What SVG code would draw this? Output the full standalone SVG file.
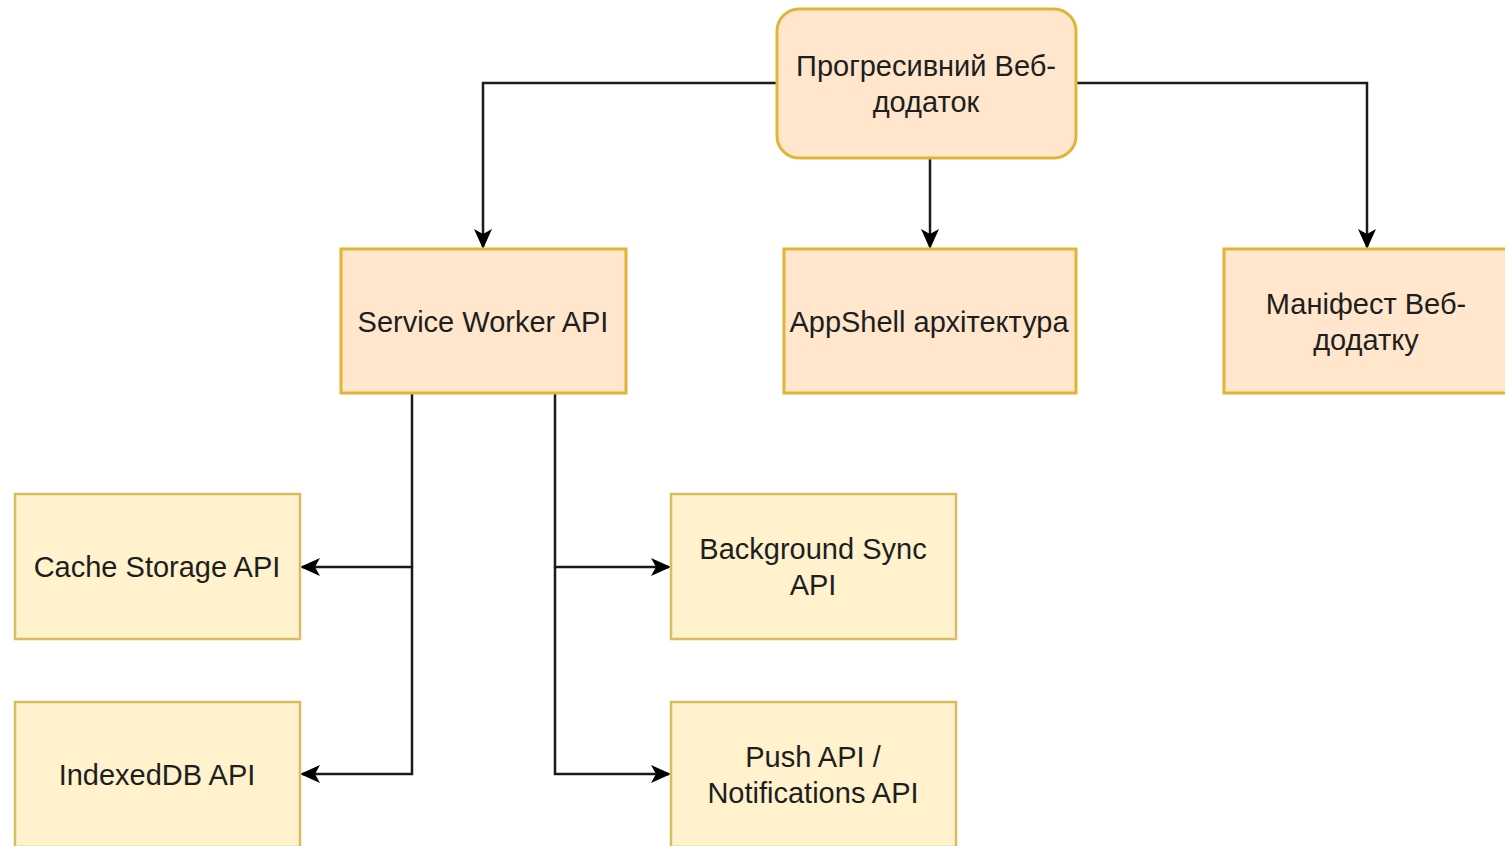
<svg xmlns="http://www.w3.org/2000/svg" width="1505" height="846" viewBox="0 0 1505 846">
<style>
.o{fill:#ffe6cc;stroke:#e2b434;stroke-width:3}
.y{fill:#fff2cc;stroke:#d9bc5e;stroke-width:2.5}
.t{font-family:"Liberation Sans",Arial,sans-serif;font-size:29px;fill:#1e1e1e;text-anchor:middle}
.c{fill:none;stroke:#1a1a1a;stroke-width:2.5}
</style>
<defs>
<marker id="a" viewBox="0 0 20 20" refX="18" refY="10" markerWidth="20" markerHeight="20" markerUnits="userSpaceOnUse" orient="auto">
<path d="M0,1 L20,10 L0,19 L5,10 Z" fill="#000"/>
</marker>
</defs>
<rect width="1505" height="846" fill="#fff"/>
<g id="connectors">
<path class="c" d="M777,83 H483 V247" marker-end="url(#a)"/>
<path class="c" d="M930,158 V247" marker-end="url(#a)"/>
<path class="c" d="M1076,83 H1367 V247" marker-end="url(#a)"/>
<path class="c" d="M412,393 V567 H302" marker-end="url(#a)"/>
<path class="c" d="M412,567 V774 H302" marker-end="url(#a)"/>
<path class="c" d="M555,393 V567 H669" marker-end="url(#a)"/>
<path class="c" d="M555,567 V774 H669" marker-end="url(#a)"/>
</g>
<g id="pwa">
<rect class="o" x="777" y="9" width="299" height="149" rx="22"/>
<text class="t" x="926" y="76">Прогресивний Веб-</text>
<text class="t" x="926" y="112">додаток</text>
</g>
<g id="sw">
<rect class="o" x="341" y="249" width="285" height="144"/>
<text class="t" x="483" y="332">Service Worker API</text>
</g>
<g id="appshell">
<rect class="o" x="784" y="249" width="292" height="144"/>
<text class="t" x="929" y="332">AppShell архітектура</text>
</g>
<g id="manifest">
<rect class="o" x="1224" y="249" width="286" height="144"/>
<text class="t" x="1366" y="314">Маніфест Веб-</text>
<text class="t" x="1366" y="350">додатку</text>
</g>
<g id="cache">
<rect class="y" x="15" y="494" width="285" height="145"/>
<text class="t" x="157" y="577">Cache Storage API</text>
</g>
<g id="idb">
<rect class="y" x="15" y="702" width="285" height="145"/>
<text class="t" x="157" y="785">IndexedDB API</text>
</g>
<g id="bgsync">
<rect class="y" x="671" y="494" width="285" height="145"/>
<text class="t" x="813" y="559">Background Sync</text>
<text class="t" x="813" y="595">API</text>
</g>
<g id="push">
<rect class="y" x="671" y="702" width="285" height="145"/>
<text class="t" x="813" y="767">Push API /</text>
<text class="t" x="813" y="803">Notifications API</text>
</g>
</svg>
